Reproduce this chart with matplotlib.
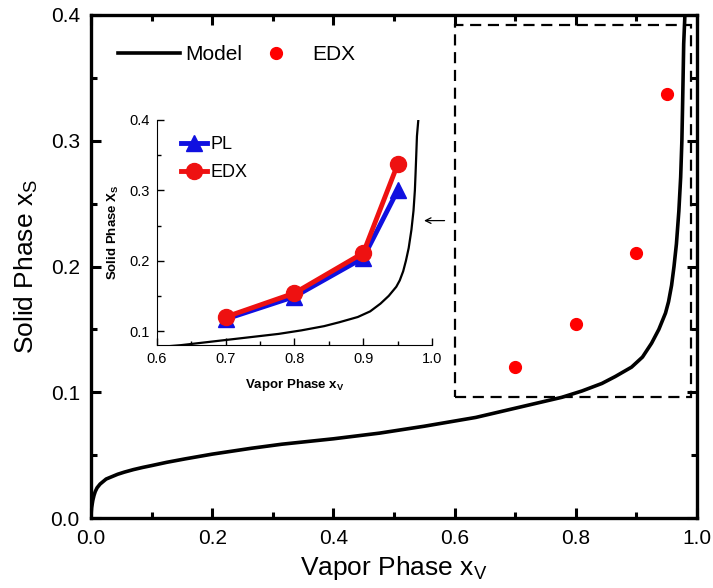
import matplotlib
matplotlib.use('Agg')
import matplotlib.pyplot as plt
from matplotlib.patches import Rectangle
from matplotlib.ticker import MultipleLocator

plt.rcParams['font.family'] = ['Liberation Sans', 'DejaVu Sans']
plt.rcParams['mathtext.default'] = 'regular'

# model curve, solid vs vapor composition
model_xv = [0.0, 0.0005, 0.001, 0.002, 0.003, 0.005, 0.007, 0.010, 0.015, 0.020,
            0.025, 0.035, 0.044, 0.055, 0.07, 0.085, 0.10, 0.125, 0.155, 0.2,
            0.265, 0.315, 0.4, 0.476, 0.55, 0.635, 0.706, 0.777, 0.81, 0.843,
            0.865, 0.892, 0.91, 0.925, 0.937, 0.948, 0.953, 0.958, 0.962, 0.966,
            0.970, 0.973, 0.975, 0.976, 0.977, 0.978, 0.98]
model_xs = [0.0, 0.005, 0.008, 0.011, 0.014, 0.018, 0.021, 0.024, 0.027, 0.029,
            0.031, 0.033, 0.0348, 0.0365, 0.0385, 0.0402, 0.0417, 0.0443, 0.047, 0.0508,
            0.0555, 0.0587, 0.063, 0.0675, 0.073, 0.080, 0.088, 0.096, 0.101, 0.107,
            0.1125, 0.120, 0.128, 0.139, 0.150, 0.163, 0.172, 0.185, 0.200, 0.218,
            0.244, 0.271, 0.300, 0.324, 0.350, 0.377, 0.40]

# measured compositions
sample_xv = [0.7, 0.8, 0.9, 0.95]
edx_xs = [0.12, 0.154, 0.211, 0.337]
pl_xs = [0.117, 0.149, 0.204, 0.30]

# zoomed region shown in the inset (x0, y0, x1, y1)
zoom_box = (0.6, 0.096, 0.99, 0.392)

fig = plt.figure(figsize=(7.13, 5.88), dpi=100)
ax = fig.add_axes([0.1276, 0.119, 0.85, 0.8555])

ax.plot(model_xv, model_xs, color='black', lw=2.6, label='Model')
ax.plot(sample_xv, edx_xs, 'o', color='red', ms=8.5, mec='red', label='EDX')

ax.set_xlim(0, 1.0)
ax.set_ylim(0, 0.4)
ax.xaxis.set_major_locator(MultipleLocator(0.2))
ax.xaxis.set_minor_locator(MultipleLocator(0.1))
ax.yaxis.set_major_locator(MultipleLocator(0.1))
ax.yaxis.set_minor_locator(MultipleLocator(0.05))
ax.xaxis.set_major_formatter(plt.FormatStrFormatter('%.1f'))
ax.yaxis.set_major_formatter(plt.FormatStrFormatter('%.1f'))
ax.tick_params(which='both', direction='in', top=True, right=True, width=2.2)
ax.tick_params(which='major', length=7, labelsize=15, pad=8)
ax.tick_params(which='minor', length=4)
for s in ax.spines.values():
    s.set_linewidth(2.4)
ax.set_xlabel('Vapor Phase x$_V$', fontsize=19, labelpad=4)
ax.set_ylabel('Solid Phase x$_S$', fontsize=19, labelpad=8)

ax.legend(loc='upper left', ncol=2, frameon=False, fontsize=15,
          handlelength=3.0, handletextpad=0.25, columnspacing=0.1,
          borderpad=0, borderaxespad=0, bbox_to_anchor=(0.044, 0.94))

x0, y0, x1, y1 = zoom_box
ax.add_patch(Rectangle((x0, y0), x1 - x0, y1 - y0, fill=False, ec='black',
                       lw=1.6, ls=(0, (5, 3))))
ax.annotate('', xy=(0.545, 0.2365), xytext=(0.588, 0.2365),
            arrowprops=dict(arrowstyle='->', color='black', lw=0.9))

# inset: close-up of the high vapor fraction range
ins = fig.add_axes([0.220, 0.413, 0.386, 0.383])
ins.plot(model_xv, model_xs, color='black', lw=1.6)
ins.plot(sample_xv, pl_xs, '-^', color='#1010e0', lw=3.5, ms=12, label='PL')
ins.plot(sample_xv, edx_xs, '-o', color='#ee1111', lw=3.5, ms=11.5, label='EDX')
ins.set_xlim(0.6, 1.0)
ins.set_ylim(0.08, 0.4)
ins.xaxis.set_major_locator(MultipleLocator(0.1))
ins.xaxis.set_minor_locator(MultipleLocator(0.05))
ins.yaxis.set_major_locator(MultipleLocator(0.1))
ins.yaxis.set_minor_locator(MultipleLocator(0.05))
ins.xaxis.set_major_formatter(plt.FormatStrFormatter('%.1f'))
ins.yaxis.set_major_formatter(plt.FormatStrFormatter('%.1f'))
ins.spines['top'].set_visible(False)
ins.spines['right'].set_visible(False)
ins.patch.set_alpha(0)
ins.tick_params(which='both', direction='in', width=1, labelsize=10.5)
ins.tick_params(which='major', length=5, pad=5)
ins.tick_params(which='minor', length=3)
ins.set_xlabel('Vapor Phase x$_V$', fontsize=9.5, fontweight='bold', labelpad=8)
ins.set_ylabel('Solid Phase X$_S$', fontsize=9.5, fontweight='bold', labelpad=6)
ins.legend(loc='upper left', frameon=False, fontsize=13, handlelength=1.4,
           handletextpad=0.2, labelspacing=0.6, bbox_to_anchor=(0.03, 1.0))

fig.savefig('out.png', dpi=100)
